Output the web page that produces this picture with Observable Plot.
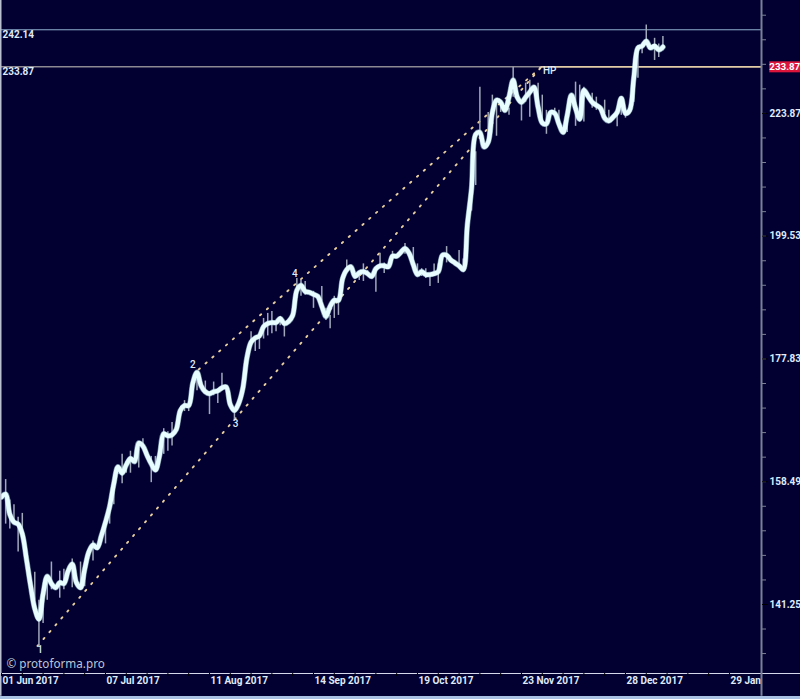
<!DOCTYPE html>
<html><head><meta charset="utf-8">
<style>html,body{margin:0;padding:0;background:#a9c1e3;overflow:hidden}svg{display:block}</style>
<script src="https://cdn.jsdelivr.net/npm/d3@7"></script>
<script src="https://cdn.jsdelivr.net/npm/@observablehq/plot@0.6"></script>
</head><body><div id="chart"></div>
<script>
const closes = [156.23,156.65,153.71,152.59,152.31,150.91,147.41,143.77,140.70,139.32,
142.65,145.03,144.05,143.49,144.19,144.05,145.73,146.71,144.19,143.49,
146.01,148.39,149.37,148.95,150.63,152.59,154.83,158.19,160.71,159.76,
161.03,161.98,161.50,164.35,163.88,162.45,161.18,160.23,162.45,165.78,
165.46,165.62,166.42,169.43,170.22,170.22,173.86,175.61,173.39,172.44,
172.12,172.44,172.60,173.07,173.23,170.38,169.43,170.54,172.92,178.01,
180.65,181.36,181.71,183.30,183.83,184.00,184.00,184.71,183.83,184.18,
185.24,189.65,190.53,189.47,189.30,188.94,188.59,186.83,185.06,186.83,
187.88,187.88,191.76,193.35,193.88,192.12,192.82,193.00,192.65,192.12,
193.53,194.06,194.06,193.88,195.82,195.82,196.53,197.24,196.35,194.24,
192.47,193.00,192.47,192.47,192.65,193.00,196.00,196.00,195.12,194.59,
194.06,193.35,201.71,208.64,219.53,219.92,216.95,217.94,224.08,226.67,
226.24,224.52,227.31,230.97,227.31,226.24,227.31,228.39,229.46,225.16,
221.89,221.69,224.08,223.87,221.69,219.92,223.47,227.74,224.95,222.68,
228.81,227.53,226.24,225.59,224.95,222.88,222.29,223.08,224.08,227.09,
223.87,224.52,231.40,238.06,238.49,239.57,238.06,238.49,237.63,238.27];
const wickBars = [1,2,3,4,5,8,9,10,11,12,14,15,17,19,20,22,25,26,27,29,30,31,33,34,36,37,39,40,41,44,45,47,49,50,51,52,53,56,
60,61,62,63,64,65,66,67,68,71,72,73,75,77,78,79,80,81,83,86,87,88,90,91,92,94,97,99,100,101,102,103,104,105,107,110,111,
113,114,115,117,118,119,120,122,123,125,126,127,129,130,131,133,134,136,138,139,140,142,143,145,146,148,149,150,152,153,154,155,157,158,159];
const wickHighs = [158.81,155.81,155.11,153.29,153.85,145.59,141.81,143.21,145.17,146.99,145.73,146.01,147.41,146.99,146.01,149.93,153.01,155.39,159.44,162.61,161.50,163.09,163.40,164.99,162.29,162.29,166.57,166.10,167.52,171.01,170.54,175.61,174.18,172.44,174.02,172.60,175.45,169.27,
182.42,181.53,181.71,184.71,185.59,185.94,184.18,185.06,183.83,191.76,191.41,191.23,189.47,190.35,186.47,185.24,188.59,188.24,195.12,192.65,194.41,193.18,193.00,196.35,194.59,196.71,198.14,197.42,194.41,193.53,193.53,192.65,194.41,194.41,197.59,196.88,195.29,
210.62,215.96,229.46,224.08,227.74,226.24,226.67,224.95,233.76,226.24,230.32,230.97,230.32,227.74,224.52,224.95,224.52,223.08,230.54,229.89,229.46,228.17,227.31,226.67,224.52,224.08,227.31,224.52,230.54,238.49,238.06,243.22,240.21,238.92,240.64];
const wickLows = [152.31,151.61,152.31,148.39,150.21,141.81,135.87,138.77,141.81,143.21,142.09,143.21,143.49,143.21,143.63,147.13,149.51,152.31,155.11,158.19,159.76,159.76,160.55,163.40,158.35,159.92,162.61,163.09,163.88,169.27,169.27,172.60,172.12,168.79,171.80,170.54,173.23,168.00,
180.12,179.06,179.42,181.18,181.71,182.06,182.42,183.47,181.53,188.24,188.59,188.77,186.47,187.71,184.36,182.95,184.71,185.24,193.00,191.41,191.23,192.12,189.30,194.06,192.65,195.24,196.18,195.24,192.12,192.12,191.76,190.35,192.12,190.88,194.59,194.06,193.18,
204.28,209.23,218.54,217.15,221.89,219.13,224.08,223.47,227.31,222.29,226.24,223.08,224.52,221.49,219.53,223.47,221.49,219.92,221.18,222.08,222.08,224.95,224.52,223.87,221.89,221.09,223.47,222.88,226.24,231.40,236.77,238.92,235.27,235.91,237.42];
const axisBars = [0,25,50,75,100,125,150,175];
const axisDates = ["01 Jun 2017","07 Jul 2017","11 Aug 2017","14 Sep 2017","19 Oct 2017","23 Nov 2017","28 Dec 2017","29 Jan"];
const minorBars = d3.range(0,180,5);
const majorPrices = [223.87,199.53,177.83,158.49,141.25];
const minorPrices = [245.47,239.88,234.42,229.09,223.87,218.78,213.80,208.93,204.17,199.53,194.98,190.55,186.21,181.97,177.83,173.78,169.82,165.96,162.18,158.49,154.88,151.36,147.91,144.54,141.25,138.04,134.90];
const levelTop = 242.14, levelHP = 233.87;
const waveBars = [8.65,47.4,129.8];
const wavePrices = [135.87,176.08,233.87];
const waveLabels = [
  {t:"1",b:9.3,p:135.35},{t:"2",b:46,p:176.9},{t:"3",b:56.3,p:167.3},{t:"4",b:70.5,p:192.65},{t:"HP",b:131.8,p:232.9}
];
const leftEdge=-0.24, axisEdge=182.7, rightEdge=192.07, priceTop=248.88, priceBottom=132.4, priceFoot=129.6;
const bg="#020030", ink="#dfeafb", font="Roboto,'Liberation Sans',Arial,sans-serif";

const rows = closes.map((c,i)=>({i,c}));
const wicks = wickBars.map((b,i)=>({b,h:wickHighs[i],l:wickLows[i]}));
const chan = [[waveBars[0],wavePrices[0],waveBars[2],wavePrices[2]],[waveBars[1],wavePrices[1],waveBars[2],wavePrices[2]]];

const plot = Plot.plot({
  width:800,height:696,marginTop:0,marginLeft:0,marginRight:39,marginBottom:23,
  style:{background:bg,color:ink,fontFamily:font,fontSize:"10px",fontWeight:700,overflow:"visible"},
  x:{domain:[leftEdge,axisEdge],axis:null},
  y:{type:"log",domain:[priceBottom,priceTop],axis:null},
  marks:[
    Plot.link(chan,{x1:d=>d[0],y1:d=>d[1],x2:d=>d[2],y2:d=>d[3],stroke:"#e8cf9f",strokeWidth:1.9,strokeDasharray:"1.5,7.6",strokeLinecap:"round"}),
    Plot.ruleY([levelTop],{x1:leftEdge,x2:axisEdge,stroke:"#8eb0cf",strokeWidth:1}),
    Plot.ruleY([levelHP],{x1:leftEdge,x2:waveBars[2],stroke:"#d2ccc3",strokeWidth:1}),
    Plot.ruleY([levelHP],{x1:waveBars[2],x2:axisEdge,stroke:"#e3cda6",strokeWidth:1.8}),
    Plot.ruleX(wicks,{x:"b",y1:"l",y2:"h",stroke:"#a0a8ba",strokeWidth:1.5}),
    Plot.line(rows,{x:"i",y:"c",stroke:"#bfeaf2",strokeOpacity:0.55,strokeWidth:5.6,curve:"catmull-rom",strokeLinejoin:"round",strokeLinecap:"round"}),
    Plot.line(rows,{x:"i",y:"c",stroke:"#e8fdff",strokeWidth:4.4,curve:"catmull-rom",strokeLinejoin:"round",strokeLinecap:"round"}),
    Plot.text(waveLabels,{x:"b",y:"p",text:"t",fill:ink,fontSize:10,fontWeight:500}),
    Plot.text([levelTop,levelHP],{x:leftEdge,y:d=>d,text:d=>d.toFixed(2),dx:2,dy:5,textAnchor:"start",fill:ink,fontSize:10}),
    Plot.text(["© protoforma.pro"],{frameAnchor:"bottom-left",dx:6,dy:-6,fill:"#bcc6d8",fontSize:11.7,fontWeight:400,fontFamily:"'Noto Sans',sans-serif"}),
    Plot.ruleX([leftEdge],{y1:priceFoot,y2:priceTop,stroke:"#b9bfce",strokeWidth:2}),
    Plot.ruleY([priceBottom],{x1:leftEdge,x2:rightEdge,stroke:"#d5d8ea",strokeWidth:1.2}),
    Plot.ruleX([axisEdge],{y1:priceFoot,y2:priceTop,stroke:"#7b8096",strokeWidth:2}),
    Plot.axisX(minorBars,{tickSize:3,stroke:"#000",tickFormat:()=>"",label:null}),
    Plot.axisX(axisBars,{tickSize:0,tickPadding:3,textAnchor:"start",dx:1,fill:ink,fontSize:10,tickFormat:(d,i)=>axisDates[i],label:null}),
    Plot.axisY(minorPrices,{anchor:"right",tickSize:4,stroke:"#7b8096",tickFormat:()=>"",label:null}),
    Plot.axisY(majorPrices,{anchor:"right",tickSize:6,stroke:"#000",tickPadding:2,fill:ink,fontSize:10,tickFormat:d=>d.toFixed(2),label:null}),
    Plot.ruleY([levelHP],{x1:rightEdge-7.4,x2:rightEdge,stroke:"#dc143c",strokeWidth:11}),
    Plot.text([levelHP],{x:rightEdge-7.5,y:d=>d,text:d=>d.toFixed(2),textAnchor:"start",fill:"#fff",fontSize:9.8})
  ]
});
document.getElementById("chart").append(plot);
</script></body></html>
